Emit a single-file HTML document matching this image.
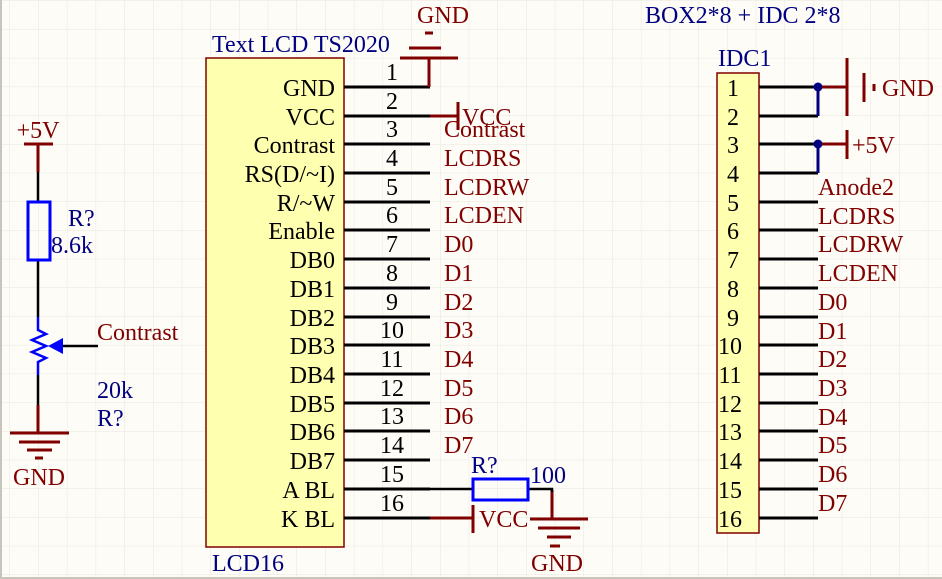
<!DOCTYPE html>
<html><head><meta charset="utf-8"><style>
html,body{margin:0;padding:0;background:#fdfcf7;}
svg{display:block;}
text{font-family:"Liberation Serif",serif;font-size:24px;}
.k{fill:#000}.r{fill:#800000}.b{fill:#000080}
</style></head><body>
<svg width="942" height="579" viewBox="0 0 942 579" xmlns="http://www.w3.org/2000/svg">
<defs><pattern id="g" width="28.7" height="28.7" patternUnits="userSpaceOnUse" x="9.5" y="0.5">
<path d="M0 0H28.7M0 0V28.7" stroke="#e9e7de" stroke-width="1" fill="none"/></pattern></defs>
<rect width="942" height="579" fill="url(#g)"/>
<line x1="1" y1="0" x2="1" y2="579" stroke="#c8c6bc" stroke-width="2"/>
<line x1="0" y1="578" x2="942" y2="578" stroke="#c8c6bc" stroke-width="2"/>

<!-- LCD -->
<text x="212" y="52" class="b">Text LCD TS2020</text>
<rect x="206" y="58" width="138" height="489" fill="#ffffb0" stroke="#800000" stroke-width="1.5"/>
<text x="212" y="571" class="b">LCD16</text>
<g stroke="#000" stroke-width="3">
<line x1="344" y1="87" x2="430" y2="87"/><line x1="344" y1="116" x2="430" y2="116"/>
<line x1="344" y1="144" x2="430" y2="144"/><line x1="344" y1="173" x2="430" y2="173"/>
<line x1="344" y1="202" x2="430" y2="202"/><line x1="344" y1="230" x2="430" y2="230"/>
<line x1="344" y1="259" x2="430" y2="259"/><line x1="344" y1="288" x2="430" y2="288"/>
<line x1="344" y1="317" x2="430" y2="317"/><line x1="344" y1="345" x2="430" y2="345"/>
<line x1="344" y1="374" x2="430" y2="374"/><line x1="344" y1="403" x2="430" y2="403"/>
<line x1="344" y1="431" x2="430" y2="431"/><line x1="344" y1="460" x2="430" y2="460"/>
<line x1="344" y1="489" x2="430" y2="489"/><line x1="344" y1="518" x2="430" y2="518"/>
</g>
<g class="k" text-anchor="middle">
<text x="392" y="80">1</text><text x="392" y="109">2</text><text x="392" y="137">3</text><text x="392" y="166">4</text>
<text x="392" y="195">5</text><text x="392" y="223">6</text><text x="392" y="252">7</text><text x="392" y="281">8</text>
<text x="392" y="310">9</text><text x="392" y="338">10</text><text x="392" y="367">11</text><text x="392" y="396">12</text>
<text x="392" y="424">13</text><text x="392" y="453">14</text><text x="392" y="482">15</text><text x="392" y="511">16</text>
</g>
<g class="k" text-anchor="end">
<text x="335" y="96">GND</text><text x="335" y="125">VCC</text><text x="335" y="153">Contrast</text><text x="335" y="182">RS(D/~I)</text>
<text x="335" y="211">R/~W</text><text x="335" y="239">Enable</text><text x="335" y="268">DB0</text><text x="335" y="297">DB1</text>
<text x="335" y="326">DB2</text><text x="335" y="354">DB3</text><text x="335" y="383">DB4</text><text x="335" y="412">DB5</text>
<text x="335" y="440">DB6</text><text x="335" y="469">DB7</text><text x="335" y="498">A BL</text><text x="335" y="527">K BL</text>
</g>
<g class="r">
<text x="444" y="137">Contrast</text><text x="444" y="166">LCDRS</text><text x="444" y="195">LCDRW</text><text x="444" y="223">LCDEN</text>
<text x="444" y="252">D0</text><text x="444" y="281">D1</text><text x="444" y="310">D2</text><text x="444" y="338">D3</text>
<text x="444" y="367">D4</text><text x="444" y="396">D5</text><text x="444" y="424">D6</text><text x="444" y="453">D7</text>
</g>
<!-- GND top -->
<g stroke="#800000" stroke-width="3">
<line x1="429" y1="58" x2="429" y2="87"/><line x1="400" y1="58" x2="458" y2="58"/>
<line x1="409" y1="48" x2="441" y2="48"/><line x1="425" y1="33" x2="433" y2="33"/>
<line x1="430" y1="116" x2="458" y2="116"/><line x1="458" y1="102" x2="458" y2="130"/>
<line x1="430" y1="518" x2="473" y2="518"/><line x1="473" y1="505" x2="473" y2="533"/>
<line x1="552" y1="490" x2="552" y2="519"/><line x1="530" y1="519" x2="588" y2="519"/>
<line x1="538" y1="528" x2="580" y2="528"/><line x1="547" y1="537" x2="571" y2="537"/><line x1="550" y1="546" x2="560" y2="546"/>
</g>
<text x="443" y="23" class="r" text-anchor="middle">GND</text>
<text x="462" y="125" class="r">VCC</text>
<text x="479" y="527" class="r">VCC</text>
<text x="557" y="571" class="r" text-anchor="middle">GND</text>
<g stroke="#000" stroke-width="2.5" fill="none">
<line x1="430" y1="489" x2="472" y2="489"/><polyline points="528,489 552,489 552,492"/>
</g>
<rect x="473" y="479" width="55" height="21" fill="none" stroke="#0000ff" stroke-width="3"/>
<text x="471" y="473" class="b">R?</text>
<text x="530" y="483" class="b">100</text>

<!-- left -->
<text x="38" y="138" class="r" text-anchor="middle">+5V</text>
<g stroke="#800000" stroke-width="3">
<line x1="24" y1="144" x2="53" y2="144"/><line x1="38" y1="144" x2="38" y2="172"/>
<line x1="38" y1="405" x2="38" y2="433"/><line x1="10" y1="433" x2="69" y2="433"/>
<line x1="19" y1="442" x2="60" y2="442"/><line x1="27" y1="450" x2="52" y2="450"/><line x1="35" y1="458" x2="43" y2="458"/>
</g>
<g stroke="#000" stroke-width="2.5">
<line x1="38" y1="172" x2="38" y2="202"/><line x1="38" y1="260" x2="38" y2="317"/>
<line x1="38" y1="375" x2="38" y2="405"/><line x1="62" y1="346" x2="98" y2="346"/>
</g>
<rect x="28" y="202" width="22" height="58" fill="none" stroke="#0000ff" stroke-width="3"/>
<polyline points="38,317 38,330 46,334 32,340 46,346 32,352 46,358 38,362 38,375" fill="none" stroke="#0000ff" stroke-width="2.5"/>
<polygon points="48,346 63,338 63,354" fill="#0000ff"/>
<text x="68" y="226" class="b">R?</text>
<text x="51" y="253" class="b">8.6k</text>
<text x="97" y="340" class="r">Contrast</text>
<text x="97" y="398" class="b">20k</text>
<text x="97" y="426" class="b">R?</text>
<text x="39" y="485" class="r" text-anchor="middle">GND</text>

<!-- IDC -->
<text x="645" y="23" class="b">BOX2*8 + IDC 2*8</text>
<text x="718" y="66" class="b">IDC1</text>
<rect x="717" y="73" width="42" height="460" fill="#ffffb0" stroke="#800000" stroke-width="1.5"/>
<g stroke="#000" stroke-width="3">
<line x1="759" y1="87" x2="818" y2="87"/><line x1="759" y1="116" x2="818" y2="116"/>
<line x1="759" y1="144" x2="818" y2="144"/><line x1="759" y1="173" x2="818" y2="173"/>
<line x1="759" y1="202" x2="818" y2="202"/><line x1="759" y1="230" x2="818" y2="230"/>
<line x1="759" y1="259" x2="818" y2="259"/><line x1="759" y1="288" x2="818" y2="288"/>
<line x1="759" y1="317" x2="818" y2="317"/><line x1="759" y1="345" x2="818" y2="345"/>
<line x1="759" y1="374" x2="818" y2="374"/><line x1="759" y1="403" x2="818" y2="403"/>
<line x1="759" y1="431" x2="818" y2="431"/><line x1="759" y1="460" x2="818" y2="460"/>
<line x1="759" y1="489" x2="818" y2="489"/><line x1="759" y1="518" x2="818" y2="518"/>
</g>
<g class="k" text-anchor="middle">
<text x="733" y="96">1</text><text x="733" y="125">2</text><text x="733" y="153">3</text><text x="733" y="182">4</text>
<text x="733" y="211">5</text><text x="733" y="239">6</text><text x="733" y="268">7</text><text x="733" y="297">8</text>
<text x="733" y="326">9</text><text x="730" y="354">10</text><text x="730" y="383">11</text><text x="730" y="412">12</text>
<text x="730" y="440">13</text><text x="730" y="469">14</text><text x="730" y="498">15</text><text x="730" y="527">16</text>
</g>
<g class="r">
<text x="818" y="195">Anode2</text><text x="818" y="224">LCDRS</text><text x="818" y="252">LCDRW</text><text x="818" y="281">LCDEN</text>
<text x="818" y="310">D0</text><text x="818" y="339">D1</text><text x="818" y="367">D2</text><text x="818" y="396">D3</text>
<text x="818" y="425">D4</text><text x="818" y="453">D5</text><text x="818" y="482">D6</text><text x="818" y="511">D7</text>
</g>
<g stroke="#000080" stroke-width="3">
<line x1="818" y1="87" x2="818" y2="116"/><line x1="818" y1="144" x2="818" y2="173"/>
</g>
<circle cx="818" cy="87" r="4.5" fill="#000080"/><circle cx="818" cy="144" r="4.5" fill="#000080"/>
<g stroke="#800000" stroke-width="3">
<line x1="822" y1="87" x2="847" y2="87"/><line x1="847" y1="58" x2="847" y2="116"/>
<line x1="864" y1="73" x2="864" y2="102"/><line x1="874" y1="84" x2="874" y2="91"/>
<line x1="822" y1="144" x2="847" y2="144"/><line x1="847" y1="130" x2="847" y2="159"/>
</g>
<text x="882" y="96" class="r">GND</text>
<text x="852" y="153" class="r">+5V</text>
</svg>
</body></html>
